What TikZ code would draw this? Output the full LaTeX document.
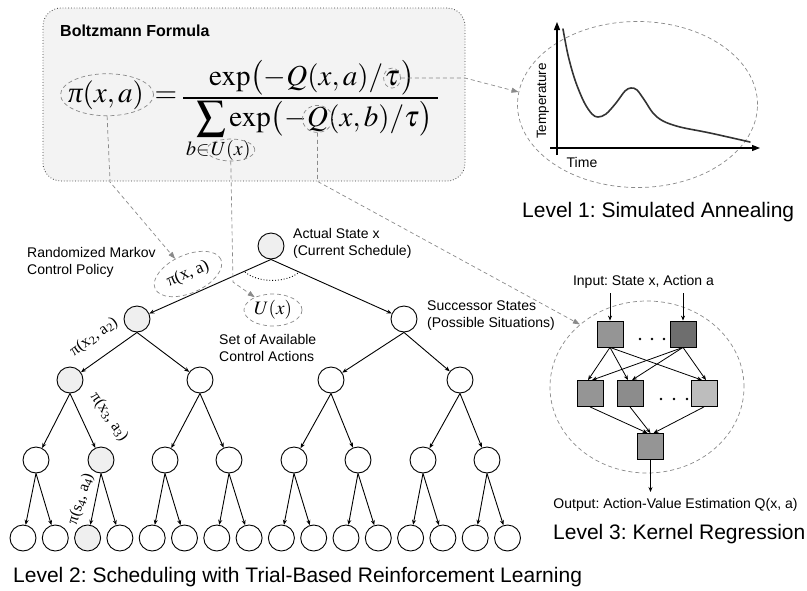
\documentclass[tikz,border=0pt]{standalone}
\usepackage{mathptmx}
\usepackage{fontspec}
\setmainfont{Liberation Sans}
\newfontfamily\tms{Liberation Serif}
\usetikzlibrary{arrows.meta,shapes.geometric,calc}
\frenchspacing
\newcommand{\itpi}{\mbox{\tms\itshape π}}
\definecolor{gfill}{HTML}{EFEFEF}
\definecolor{boxfill}{HTML}{F3F3F3}
\definecolor{dgray}{HTML}{8A8A8A}
\definecolor{kA}{HTML}{959595}
\definecolor{kB}{HTML}{6E6E6E}
\definecolor{kC}{HTML}{8C8C8C}
\definecolor{kD}{HTML}{BDBDBD}
\definecolor{curvecol}{HTML}{333333}
\tikzset{
  st/.style={circle, draw, line width=0.9pt, minimum size=26pt, inner sep=0pt, fill=white},
  stg/.style={st, fill=gfill},
  tedge/.style={line width=0.9pt, -{Stealth[length=5pt,width=4pt]}},
  gdash/.style={draw=dgray, dash pattern=on 4pt off 3pt, line width=0.7pt},
  gell/.style={gdash, ellipse, inner sep=0pt},
  garrow/.style={gdash, -{Triangle[length=7pt,width=5pt,fill=dgray]}},
  lbl/.style={font=\fontsize{14}{17}\selectfont, align=left, inner sep=0pt},
  captxt/.style={font=\fontsize{21}{25}\selectfont, inner sep=0pt},
  sq/.style={draw, line width=0.8pt, minimum size=26pt, inner sep=0pt},
  nedge/.style={line width=0.8pt, -{Stealth[length=5pt,width=4pt]}},
  axisln/.style={line width=1.1pt, -{Triangle[length=8pt,width=6pt]}},
  pil/.style={font=\tms\fontsize{16}{16}\selectfont, inner sep=0pt},
  mth/.style={font=\fontsize{29}{34}\selectfont, inner sep=0pt, anchor=base west},
  msub/.style={font=\fontsize{20}{24}\selectfont, inner sep=0pt, anchor=base west},
}
\begin{document}
\begin{tikzpicture}[x=1pt,y=-1pt]
\useasboundingbox (0,0) rectangle (807,590);

% ---------- Formula box ----------
\node[draw=black!75, dotted, line width=0.8pt, rounded corners=18pt, fill=boxfill,
      minimum width=422pt, minimum height=173pt, inner sep=0pt] (fbox) at (254,94.5) {};
\node[anchor=west, inner sep=0pt, font=\bfseries\fontsize{16}{19}\selectfont] (btitle) at (60,31) {Boltzmann Formula};

% left side
\node[mth] (piT) at (68,102) {$\itpi(x,a)$};
\node[mth, anchor=base] (eqT) at (166,102) {$=$};
% numerator
\node[mth] (n1) at (209,85) {$\exp\bigl(-Q(x,a)/$};
\node[mth] (n2) at ($(n1.base east)+(1,0)$) {$\tau$};
\node[mth] (n3) at ($(n2.base east)+(1,0)$) {$\bigr)$};
% fraction bar
\coordinate (barL) at (183,98); \coordinate (barR) at (438,98);
\draw[line width=1.1pt] (barL) -- (barR);
% denominator
\node[mth] (sig) at (196,126) {$\displaystyle\sum$};
\node[mth] (d1) at ($(sig.base east)+(3,0)$) {$\exp\bigl(-$};
\node[mth] (d2) at (d1.base east) {$Q$};
\node[mth] (d3) at (d2.base east) {$(x,b)/\tau\bigr)$};
\node[msub] (s1) at (186,155) {$b{\in}$};
\node[msub] (s2) at ($(s1.base east)+(1,0)$) {$U(x)$};

\node[gell, minimum width=93pt, minimum height=42pt] (piE) at ($(piT.center)+(1,0)$) {};
\node[gell, minimum width=17pt, minimum height=20pt] (tauE) at (n2.center) {};
\node[gell, minimum width=30pt, minimum height=27pt] (qE) at (d2.center) {};
\node[gell, minimum width=48pt, minimum height=22pt] (uE) at (s2.center) {};

% ---------- Level 1 ----------
\node[gell, minimum width=240pt, minimum height=166pt] (tell) at (637.5,104.5) {};
\coordinate (yb) at (557,155); \coordinate (yt) at (557,22);
\coordinate (xl) at (550,148); \coordinate (xr) at (760,148);
\draw[axisln] (yb) -- (yt);
\draw[axisln] (xl) -- (xr);
\draw[line width=1.6pt, curvecol, line cap=round] plot[smooth, tension=0.55] coordinates
  {(563,29) (568,55) (575,80) (584,102) (592,114) (598,117) (606,114) (616,103) (625,91) (631,88) (637,90) (645,101) (653,113) (663,121) (680,127) (710,133) (750,142)};
\node[lbl, rotate=90, font=\fontsize{13.5}{16}\selectfont] (templ) at (543,101) {Temperature};
\node[lbl] (timel) at (582,162) {Time};
\node[captxt, anchor=west] (lev1) at (522,212) {Level 1: Simulated Annealing};

% ---------- Level 2 : tree ----------
\node[stg] (r) at (271,246) {};
\node[stg] (a1) at (137,319) {};
\node[st] (a2) at (404,319) {};
\node[stg] (b1) at (70,380) {};
\node[st] (b2) at (200,380) {};
\node[st] (b3) at (331,380) {};
\node[st] (b4) at (460,380) {};
\foreach \i/\x/\s in {1/36/st,2/101/stg,3/165/st,4/229/st,5/294/st,6/358/st,7/423/st,8/487/st}
  \node[\s] (c\i) at (\x,460) {};
\foreach \i/\s in {1/st,2/st,3/stg,4/st,5/st,6/st,7/st,8/st,9/st,10/st,11/st,12/st,13/st,14/st,15/st,16/st}
  \node[\s] (d\i) at ({23+32.3*(\i-1)},538) {};
\foreach \p/\c in {r/a1,r/a2,a1/b1,a1/b2,a2/b3,a2/b4,b1/c1,b1/c2,b2/c3,b2/c4,b3/c5,b3/c6,b4/c7,b4/c8,
  c1/d1,c1/d2,c2/d3,c2/d4,c3/d5,c3/d6,c4/d7,c4/d8,c5/d9,c5/d10,c6/d11,c6/d12,c7/d13,c7/d14,c8/d15,c8/d16}
  \draw[tedge] (\p.south) -- (\c);
\coordinate (arcL) at (245,272); \coordinate (arcR) at (298,273);
\draw[dotted, line width=0.9pt] (arcL) .. controls (258,283) and (285,283) .. (arcR);

\node[gell, rotate=24, minimum width=72pt, minimum height=38pt, font=\tms\fontsize{17}{17}\selectfont] (tpi) at (188,274) {π(x, a)};
\node[gell, minimum width=58pt, minimum height=32pt, font=\fontsize{19}{19}\selectfont] (tU) at (273,310) {$U(x)$};
\node[pil, rotate=36] (pi2) at (94,337) {π(x\textsubscript{2}, a\textsubscript{2})};
\node[pil, rotate=-55] (pi3) at (109,417) {π(x\textsubscript{3}, a\textsubscript{3})};
\node[pil, rotate=72] (pi4) at (81,499) {π(s\textsubscript{4}, a\textsubscript{4})};

\node[lbl, anchor=north west] (actual) at (293,228) {Actual State x\\(Current Schedule)};
\node[lbl, anchor=north west] (rmcp) at (27,247) {Randomized Markov\\Control Policy};
\node[lbl, anchor=north west] (soac) at (219,334) {Set of Available\\Control Actions};
\node[lbl, anchor=north west] (succ) at (427,301) {Successor States\\(Possible Situations)};
\node[captxt, anchor=west] (lev2) at (13,577) {Level 2: Scheduling with Trial-Based Reinforcement Learning};

% ---------- Level 3 : kernel regression ----------
\node[gell, minimum width=194pt, minimum height=172pt] (kell) at (647,387) {};
\node[lbl] (inl) at (643.5,282) {Input: State x, Action a};
\node[sq, fill=kA] (t1) at (610,334) {};
\node[sq, fill=kB] (t2) at (683,334) {};
\node[sq, fill=kA] (m1) at (590,393.5) {};
\node[sq, fill=kC] (m2) at (630,393.5) {};
\node[sq, fill=kD] (m3) at (704,393.5) {};
\node[sq, fill=kA] (bo) at (650.5,446.5) {};
\foreach \x in {640,652,664} \fill (\x,339) circle (1.3pt);
\foreach \x in {661,674,687} \fill (\x,399) circle (1.3pt);
\coordinate (in1) at (610,293); \coordinate (in2) at (683,293);
\coordinate (out) at (650.5,492);
\draw[nedge] (in1) -- (t1);
\draw[nedge] (in2) -- (t2);
\draw[nedge] (bo) -- (out);
\foreach \m in {m1,m2,m3} {
  \draw[nedge] (t1.south) -- ($(\m.north)+(-2,0)$);
  \draw[nedge] (t2.south) -- ($(\m.north)+(2,0)$);
}
\draw[nedge] (m1.south) -- ($(bo.north)+(-3,0)$);
\draw[nedge] (m2.south) -- (bo.north);
\draw[nedge] (m3.south) -- ($(bo.north)+(3,0)$);
\node[lbl] (outl) at (675.5,505) {Output: Action-Value Estimation Q(x, a)};
\node[captxt, anchor=west] (lev3) at (553,534) {Level 3: Kernel Regression};

% ---------- dashed references ----------
\coordinate (k1) at ($(piE.south)+(3,66)$);
\coordinate (k2) at (233,282);
\coordinate (k3) at (qE.south |- fbox.south);
\coordinate (k4) at (tauE.east -| fbox.east);
\draw[garrow] (piE.south) -- (k1) -- (tpi);
\draw[garrow] (uE.south) -- (k2) -- (tU);
\draw[garrow] (qE.south) -- (k3) -- (kell.137);
\draw[garrow] (tauE.east) -- (k4) -- (tell.174);
\end{tikzpicture}
\end{document}
